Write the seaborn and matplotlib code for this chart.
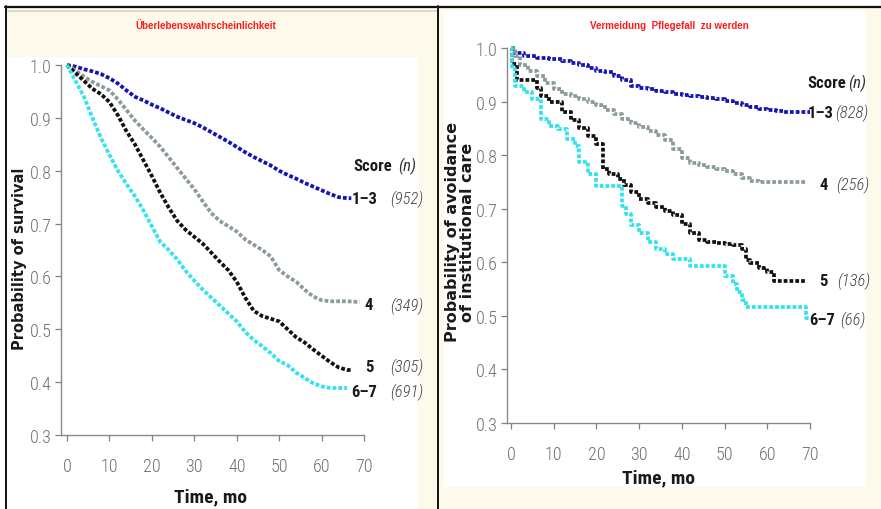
import matplotlib
matplotlib.use("Agg")
import matplotlib.pyplot as plt
from matplotlib.patches import Rectangle
from matplotlib.lines import Line2D
import pandas as pd
import seaborn as sns

# ---------------- data: Kaplan-Meier estimates by score group ----------------
score_groups = ["1–3", "4", "5", "6–7"]

# Left panel: survival
surv_n = ["952", "349", "305", "691"]
surv_t_13 = [0, 2, 4, 6, 8, 10, 12, 14, 16, 18, 20, 22, 24, 26, 28, 30, 32, 34, 36, 38, 40,
             42, 44, 46, 48, 50, 52, 54, 56, 58, 60, 62, 64, 66, 67]
surv_p_13 = [1.0, 0.997, 0.992, 0.988, 0.983, 0.975, 0.965, 0.952, 0.940, 0.933, 0.925, 0.918,
             0.910, 0.902, 0.896, 0.890, 0.882, 0.873, 0.864, 0.855, 0.845, 0.835, 0.826, 0.818,
             0.810, 0.800, 0.792, 0.785, 0.777, 0.770, 0.763, 0.756, 0.750, 0.748, 0.748]
surv_t_4 = [0, 2, 4, 6, 8, 10, 12, 14, 16, 18, 20, 22, 24, 26, 28, 30, 32, 34, 36, 38, 40,
            42, 44, 46, 48, 50, 52, 54, 56, 58, 60, 62, 64, 66, 68, 69]
surv_p_4 = [1.0, 0.990, 0.978, 0.968, 0.960, 0.952, 0.935, 0.915, 0.895, 0.878, 0.862, 0.845,
            0.825, 0.805, 0.785, 0.765, 0.742, 0.720, 0.705, 0.695, 0.685, 0.670, 0.660, 0.650,
            0.638, 0.612, 0.600, 0.590, 0.575, 0.562, 0.555, 0.553, 0.553, 0.553, 0.552, 0.552]
surv_t_5 = [0, 2, 4, 6, 8, 10, 12, 14, 16, 18, 20, 22, 24, 26, 28, 30, 32, 34, 36, 38, 40,
            42, 44, 46, 48, 50, 52, 54, 56, 58, 60, 62, 64, 66, 67]
surv_p_5 = [1.0, 0.985, 0.970, 0.955, 0.945, 0.930, 0.905, 0.875, 0.850, 0.820, 0.790, 0.758,
            0.730, 0.705, 0.688, 0.675, 0.662, 0.645, 0.628, 0.612, 0.590, 0.560, 0.535, 0.525,
            0.520, 0.515, 0.500, 0.485, 0.475, 0.462, 0.450, 0.438, 0.428, 0.423, 0.423]
surv_t_67 = [0, 1, 2, 3, 4, 6, 8, 10, 12, 14, 16, 18, 20, 22, 24, 26, 28, 30, 32, 34, 36, 38,
             40, 42, 44, 46, 48, 50, 52, 54, 56, 58, 60, 62, 64, 66]
surv_p_67 = [1.0, 0.985, 0.970, 0.955, 0.940, 0.900, 0.862, 0.830, 0.800, 0.775, 0.752, 0.725,
             0.695, 0.665, 0.650, 0.632, 0.610, 0.592, 0.575, 0.560, 0.545, 0.530, 0.515, 0.495,
             0.480, 0.468, 0.455, 0.440, 0.432, 0.418, 0.408, 0.398, 0.392, 0.389, 0.389, 0.389]

# Right panel: avoidance of institutional care
care_n = ["828", "256", "136", "66"]
care_t_13 = [0, 1, 3, 6, 9, 12, 14, 16, 18, 20, 22, 24, 26, 28, 30, 32, 34, 36, 38, 40, 42, 44,
             46, 48, 50, 52, 54, 56, 58, 60, 62, 64, 66, 68, 70]
care_p_13 = [1.0, 0.990, 0.985, 0.982, 0.980, 0.976, 0.972, 0.968, 0.962, 0.958, 0.955, 0.948,
             0.940, 0.930, 0.926, 0.923, 0.920, 0.917, 0.915, 0.913, 0.911, 0.909, 0.907, 0.905,
             0.902, 0.898, 0.894, 0.890, 0.886, 0.884, 0.882, 0.881, 0.881, 0.881, 0.881]
care_t_4 = [0, 1, 2, 4, 6, 8, 10, 12, 14, 16, 18, 20, 22, 24, 26, 28, 30, 32, 34, 36, 38, 40,
            42, 44, 46, 48, 50, 52, 54, 56, 58, 60, 62, 64, 66, 68, 69]
care_p_4 = [1.0, 0.985, 0.968, 0.958, 0.948, 0.935, 0.923, 0.915, 0.910, 0.905, 0.900, 0.893,
            0.885, 0.877, 0.868, 0.860, 0.852, 0.845, 0.838, 0.828, 0.812, 0.795, 0.785, 0.782,
            0.778, 0.774, 0.770, 0.765, 0.758, 0.752, 0.750, 0.750, 0.750, 0.750, 0.750, 0.750,
            0.750]
care_t_5 = [0, 0.3, 1.5, 6, 7, 9, 12, 14, 16, 18, 20, 21.5, 23, 25, 26.5, 28, 30, 32, 34, 36,
            38, 40, 42, 44, 46, 48, 50, 52, 54, 55, 56, 58, 60, 61.5, 65, 69]
care_p_5 = [1.0, 0.970, 0.940, 0.925, 0.910, 0.900, 0.880, 0.865, 0.850, 0.836, 0.820, 0.775,
            0.765, 0.755, 0.745, 0.732, 0.718, 0.710, 0.703, 0.696, 0.688, 0.672, 0.655, 0.641,
            0.638, 0.636, 0.634, 0.632, 0.625, 0.605, 0.598, 0.590, 0.582, 0.566, 0.566, 0.566]
care_t_67 = [0, 0.3, 1, 3, 5, 7, 9, 11, 13, 15, 16, 18, 20, 21, 24, 26, 27, 28, 30, 32, 34, 36,
             38, 40, 42, 44, 46, 48, 50, 52, 53, 54, 55, 58, 60, 62, 64, 66, 68, 69, 70]
care_p_67 = [1.0, 0.960, 0.930, 0.918, 0.905, 0.868, 0.855, 0.849, 0.830, 0.818, 0.788, 0.765,
             0.743, 0.743, 0.743, 0.706, 0.690, 0.669, 0.655, 0.638, 0.625, 0.616, 0.606, 0.606,
             0.594, 0.594, 0.594, 0.594, 0.575, 0.560, 0.545, 0.530, 0.517, 0.517, 0.517, 0.517,
             0.517, 0.517, 0.517, 0.496, 0.496]

y_ticks = [0.3, 0.4, 0.5, 0.6, 0.7, 0.8, 0.9, 1.0]
x_ticks = [0, 10, 20, 30, 40, 50, 60, 70]

colors = {"1–3": "#1414b4", "4": "#8b9a9c", "5": "#111111", "6–7": "#2fe3ef"}

COND = ["Roboto Condensed", "DejaVu Sans"]
LBL = 12


def long_frame(ts, ps):
    rows = []
    for g, t, p in zip(score_groups, ts, ps):
        rows.append(pd.DataFrame({"time": t, "prob": p, "score": g}))
    return pd.concat(rows, ignore_index=True)


surv_df = long_frame([surv_t_13, surv_t_4, surv_t_5, surv_t_67],
                     [surv_p_13, surv_p_4, surv_p_5, surv_p_67])
care_df = long_frame([care_t_13, care_t_4, care_t_5, care_t_67],
                     [care_p_13, care_p_4, care_p_5, care_p_67])

sns.set_theme(style="white")
plt.rcParams["font.family"] = ["DejaVu Sans"]

W, H = 881, 510
fig = plt.figure(figsize=(W / 100, H / 100), dpi=100)
fig.patch.set_facecolor("white")


def px_rect(x0, y0, x1, y1, color, z=0):
    fig.add_artist(Rectangle((x0 / W, 1 - y1 / H), (x1 - x0) / W, (y1 - y0) / H,
                             transform=fig.transFigure, facecolor=color,
                             edgecolor="none", zorder=z))


def px_line(xs, ys, **kw):
    fig.add_artist(Line2D([x / W for x in xs], [1 - y / H for y in ys],
                          transform=fig.transFigure, **kw))


cream = "#fdfaeb"
# panel backgrounds
px_rect(7, 9, 437, 510, cream)
px_rect(7, 58, 418, 510, "white")
px_line([7, 437], [12, 12], color="#d8d2c4", lw=1.2, zorder=1)
px_rect(439, 9, 881, 510, cream)
px_rect(444, 12, 866, 488, "white")
# frame lines
px_line([5, 881], [7.5, 7.5], color="#111111", lw=1.6, zorder=5)
px_line([6, 6], [7, 510], color="#111111", lw=1.4, zorder=5)
px_line([438, 438], [7, 510], color="#111111", lw=1.4, zorder=5)


def make_axes(rect, df, xmin, drawstyle, ylabel, ylab_size, ylab_xy, xlab_xy, ns, label_pos,
              score_pos, title, title_xy):
    ax = fig.add_axes(rect)
    ax.patch.set_alpha(0)
    sns.lineplot(data=df, x="time", y="prob", hue="score", hue_order=score_groups,
                 palette=colors, drawstyle=drawstyle, estimator=None, sort=False,
                 legend=False, lw=2.7, ax=ax)
    for ln in ax.lines:
        ln.set_dashes((1.0, 0.55))
        ln.set_dash_capstyle("butt")
        ln.set_clip_on(False)
    ax.set_xlim(xmin, 70)
    ax.set_ylim(0.3, 1.0)
    ax.set_xticks(x_ticks)
    ax.set_yticks(y_ticks)
    ax.set_xticklabels([str(v) for v in x_ticks], family=COND, fontsize=13, weight="light",
                       color="#707070")
    ax.set_yticklabels([f"{v:.1f}" for v in y_ticks], family=COND, fontsize=13,
                       weight="light", color="#707070")
    ax.tick_params(axis="x", length=4, width=0.9, color="#808080", pad=12, direction="out",
                   bottom=True)
    ax.tick_params(axis="y", length=4, width=0.9, color="#808080", pad=3, direction="out",
                   left=True)
    for s in ["top", "right"]:
        ax.spines[s].set_visible(False)
    for s in ["left", "bottom"]:
        ax.spines[s].set_color("#8a8a8a")
        ax.spines[s].set_linewidth(1.0)
    ax.set_xlabel("")
    ax.set_ylabel("")
    fig.text(ylab_xy[0] / W, 1 - ylab_xy[1] / H, ylabel, rotation=90, ha="center",
             va="center", fontsize=ylab_size, fontweight="bold", color="#1a1a1a",
             linespacing=1.0, multialignment="center")
    fig.text(xlab_xy[0] / W, 1 - xlab_xy[1] / H, "Time, mo", ha="center", va="center",
             family=COND, fontsize=14, fontweight="bold", color="#1a1a1a")
    # group labels at the curve ends
    sx, sy, nx = score_pos
    ax.text(sx, sy, "Score", family=COND, fontsize=LBL, fontweight="bold",
            color="#1a1a1a", ha="left", va="center", clip_on=False)
    ax.text(nx, sy, "(n)", family=COND, fontsize=LBL, style="italic", color="#333333",
            ha="left", va="center", clip_on=False)
    for g, n, (rx, lx, y) in zip(score_groups, ns, label_pos):
        ax.text(rx, y, g, family=COND, fontsize=LBL, fontweight="bold", color="#1a1a1a",
                ha="right", va="center", clip_on=False)
        ax.text(lx, y, f"({n})", family=COND, fontsize=LBL, style="italic", weight="light",
                color="#444444", ha="left", va="center", clip_on=False)
    fig.text(title_xy[0] / W, 1 - title_xy[1] / H, title, ha="center", va="center",
             family=["Liberation Sans", "DejaVu Sans"], fontsize=7, fontweight="bold",
             color="#ff1a1a")
    return ax


make_axes([61 / W, 1 - 436 / H, 303 / W, 370 / H], surv_df, -1.41, "default",
          "Probability of survival", 10.5, (20, 259), (210, 497), surv_n,
          [(73.1, 76.1, 0.748), (72.2, 76.1, 0.546), (72.2, 76.1, 0.429), (73.1, 76.1, 0.383)],
          (67.6, 0.8095, 78.0),
          "Überlebenswahrscheinlichkeit", (206, 26))

make_axes([507 / W, 1 - 424 / H, 303 / W, 375 / H], care_df, -0.94, "steps-post",
          "Probability of avoidance\nof institutional care", 11.5, (460, 232), (658, 478),
          care_n,
          [(75.6, 75.9, 0.879), (74.2, 76.1, 0.746), (74.2, 76.3, 0.566), (75.9, 77.0, 0.493)],
          (69.3, 0.936, 79.0),
          "Vermeidung  Pflegefall  zu werden", (669, 26))

fig.savefig("out.png", dpi=100)
